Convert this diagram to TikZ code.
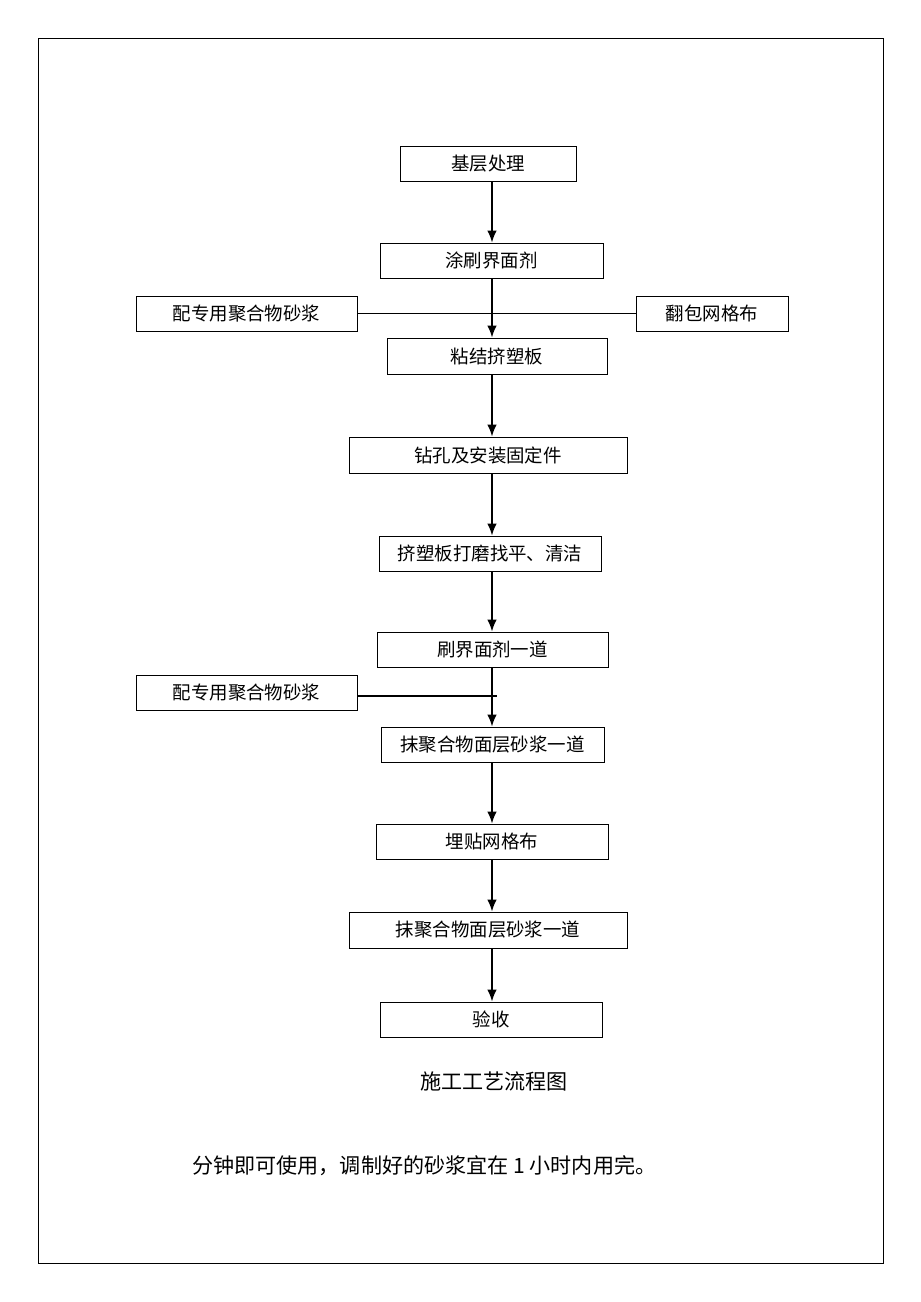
\documentclass[tikz,border=0pt]{standalone}
\usepackage{fontspec}
\usepackage{tikz}
\usetikzlibrary{positioning, calc, arrows.meta}
\setmainfont{Noto Sans CJK SC}
\newdimen\pxu \pxu=0.02cm
\tikzset{
  stepbox/.style={draw, line width=0.5pt, inner sep=0pt, minimum height=35\pxu,
    font=\fontsize{10.5pt}{12pt}\selectfont},
  flow/.style={line width=0.9pt, -{Latex[length=2.4mm,width=1.9mm]}},
}

\begin{document}
\begin{tikzpicture}[x=\pxu, y=-\pxu]
    \useasboundingbox (0,0) rectangle (920,1302);
    \draw[line width=0.5pt] (38,38) rectangle (883,1263);
    \coordinate (axis) at (492,0);

    \node[stepbox, minimum width=176\pxu] (b1) at (488,163.5) {基层处理};
    \node[stepbox, minimum width=223\pxu] (b2) at (491.5,260.5) {涂刷界面剂};
    \node[stepbox, minimum width=221\pxu] (l1) at (246.5,313.5) {配专用聚合物砂浆};
    \node[stepbox, minimum width=152\pxu] (r1) at (712,313.5) {翻包网格布};
    \node[stepbox, minimum width=220\pxu, minimum height=36\pxu] (b3) at (497,356) {粘结挤塑板};
    \node[stepbox, minimum width=278\pxu, minimum height=36\pxu] (b4) at (488,455) {钻孔及安装固定件};
    \node[stepbox, minimum width=222\pxu] (b5) at (490,553.5) {挤塑板打磨找平、清洁};
    \node[stepbox, minimum width=231\pxu] (b6) at (492.5,649.5) {刷界面剂一道};
    \node[stepbox, minimum width=221\pxu] (l2) at (246.5,692.5) {配专用聚合物砂浆};
    \node[stepbox, minimum width=223\pxu] (b7) at (492.5,744.5) {抹聚合物面层砂浆一道};
    \node[stepbox, minimum width=232\pxu] (b8) at (492,841.5) {埋贴网格布};
    \node[stepbox, minimum width=278\pxu, minimum height=36\pxu] (b9) at (488,930) {抹聚合物面层砂浆一道};
    \node[stepbox, minimum width=222\pxu] (b10) at (491,1019.5) {验收};

    \foreach \a/\b in {b1/b2, b2/b3, b3/b4, b4/b5, b5/b6, b6/b7, b7/b8, b8/b9, b9/b10}
      \draw[flow] (\a.south -| axis) -- (\b.north -| axis);

    \draw[line width=0.6pt] (l1.east) -- (r1.west);
    \coordinate (m2) at (497,696);
    \draw[line width=0.6pt] (l2.east |- m2) -- (m2);

    \node[font=\fontsize{12pt}{14pt}\selectfont] (cap) at (494,1081) {施工工艺流程图};
    \node[anchor=west, inner sep=0pt, font=\fontsize{12pt}{14pt}\selectfont] (note) at (192,1166)
      {分钟即可使用，调制好的砂浆宜在 1 小时内用完。};
\end{tikzpicture}
\end{document}
